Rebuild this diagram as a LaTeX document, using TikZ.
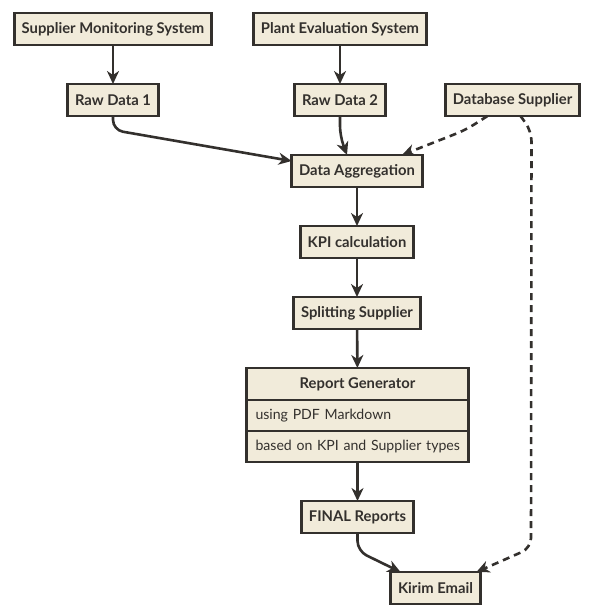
\documentclass[tikz,border=0pt]{standalone}
\usepackage{fontspec}
\setmainfont{Lato}
\usetikzlibrary{arrows.meta}
\definecolor{boxfill}{RGB}{241,235,218}
\definecolor{ink}{RGB}{51,48,45}
\begin{document}
\begin{tikzpicture}[x=1pt, y=-1pt,
  >={Stealth[length=13pt, width=12pt, inset=4pt]},
  box/.style={draw=ink, fill=boxfill, line width=2.8pt, minimum height=32pt,
    inner xsep=7.5pt, inner ysep=0pt, outer sep=0pt,
    font=\fontsize{14.8}{17}\selectfont\bfseries, text=ink},
  row/.style={draw=ink, fill=boxfill, line width=2.8pt, minimum height=31pt,
    text width=204pt, align=left, inner xsep=9pt, inner ysep=0pt, outer sep=0pt,
    text height=11pt, text depth=3pt,
    font=\fontsize{14.1}{17}\selectfont, text=ink, anchor=north},
  flow/.style={->, draw=ink, line width=2.6pt, rounded corners=10pt},
  dflow/.style={flow, dash pattern=on 7pt off 5pt}]

\useasboundingbox (0,0) rectangle (593,616);

\node [box] (SMS) at (113,29)    {Supplier Monitoring System};
\node [box] (PES) at (340,29)    {Plant Evaluation System};
\node [box] (RD1) at (113,100)   {Raw Data 1};
\node [box] (RD2) at (340,100)   {Raw Data 2};
\node [box] (DB)  at (512.5,100) {Database Supplier};
\node [box] (DA)  at (357,171)   {Data Aggregation};
\node [box] (KPI) at (357,242)   {KPI calculation};
\node [box] (SS)  at (357,313)   {Splitting Supplier};

% report generator, header + two rows
\node [box, minimum width=222pt] (RG) at (357.5,384) {Report Generator};
\node [row] (RGa) at (RG.south)  {\mbox{using PDF Markdown}};
\node [row] (RGb) at (RGa.south) {\mbox{based on KPI and Supplier types}};

\node [box] (FR)  at (357.5,517) {FINAL Reports};
\node [box] (KE)  at (435.5,588) {Kirim Email};

\draw [flow] (SMS) -- (RD1);
\draw [flow] (PES) -- (RD2);
\draw [flow] (RD1.south) -- ++(0,14) -- ([yshift=-6pt]DA.north west);
\draw [flow] (RD2.south) -- ++(0,20) -- ([xshift=-10pt]DA.north);
\draw [dflow] ([xshift=-25pt]DB.south) -- ++(-22,14) -- ([xshift=45pt]DA.north);

\draw [flow] (DA) -- (KPI);
\draw [flow] (KPI) -- (SS);
\draw [flow] (SS) -- (RG);
\draw [flow] (RGb) -- (FR);

\draw [flow] (FR.south) -- ++(0,18) -- ([xshift=-35pt]KE.north);
\draw [dflow] ([xshift=8pt]DB.south) -- ++(11,15) -- (531,548) -- ([xshift=-4pt]KE.north east);

\end{tikzpicture}
\end{document}
